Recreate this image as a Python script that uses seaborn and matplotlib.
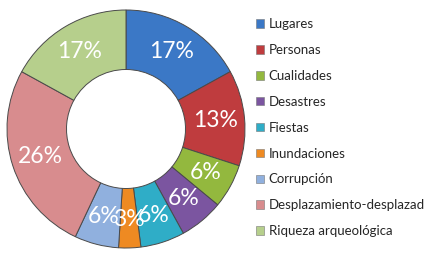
import matplotlib
matplotlib.use("Agg")
import matplotlib.pyplot as plt
from matplotlib.patches import Patch
import seaborn as sns

# data
categories = ["Lugares", "Personas", "Cualidades", "Desastres", "Fiestas",
              "Inundaciones", "Corrupción", "Desplazamiento-desplazad",
              "Riqueza arqueológica"]
shares = [17, 13, 6, 6, 6, 3, 6, 26, 17]
colors = ["#3B78C6", "#BF3C3E", "#93B83E", "#7B55A0", "#2FADC7",
          "#EE8A22", "#90B0DE", "#D88C8E", "#B6CF8C"]

sns.set_theme(style="white")
plt.rcParams["font.family"] = ["Lato", "DejaVu Sans"]

W, H = 429, 254
fig = plt.figure(figsize=(W / 100, H / 100), dpi=100)

# donut: centre ~(126,129) px, outer radius ~119 px
cx, cy, r = 126, 129, 119
ax = fig.add_axes([(cx - r) / W, (H - cy - r) / H, 2 * r / W, 2 * r / H])
wedges, texts = ax.pie(
    shares, colors=colors, startangle=90, counterclock=False,
    radius=1.0, labels=[f"{v}%" for v in shares], labeldistance=0.76,
    wedgeprops=dict(width=0.5, edgecolor="#4a4a4a", linewidth=0.7),
    textprops=dict(color="white", fontsize=16.5),
)
for t in texts:
    t.set_ha("center")
    t.set_va("center")
ax.set_xlim(-1, 1)
ax.set_ylim(-1, 1)
ax.set_aspect("equal")
ax.axis("off")

# legend on the right
handles = [Patch(facecolor=c, edgecolor="#777777", linewidth=0.4) for c in colors]
fig.legend(handles, categories, loc="upper left",
           bbox_to_anchor=(251 / W, 1 - 13 / H), frameon=False,
           fontsize=9.5, handlelength=0.6, handleheight=0.6,
           handletextpad=0.35, labelspacing=1.05, borderaxespad=0)

fig.savefig("out.png", dpi=100)
